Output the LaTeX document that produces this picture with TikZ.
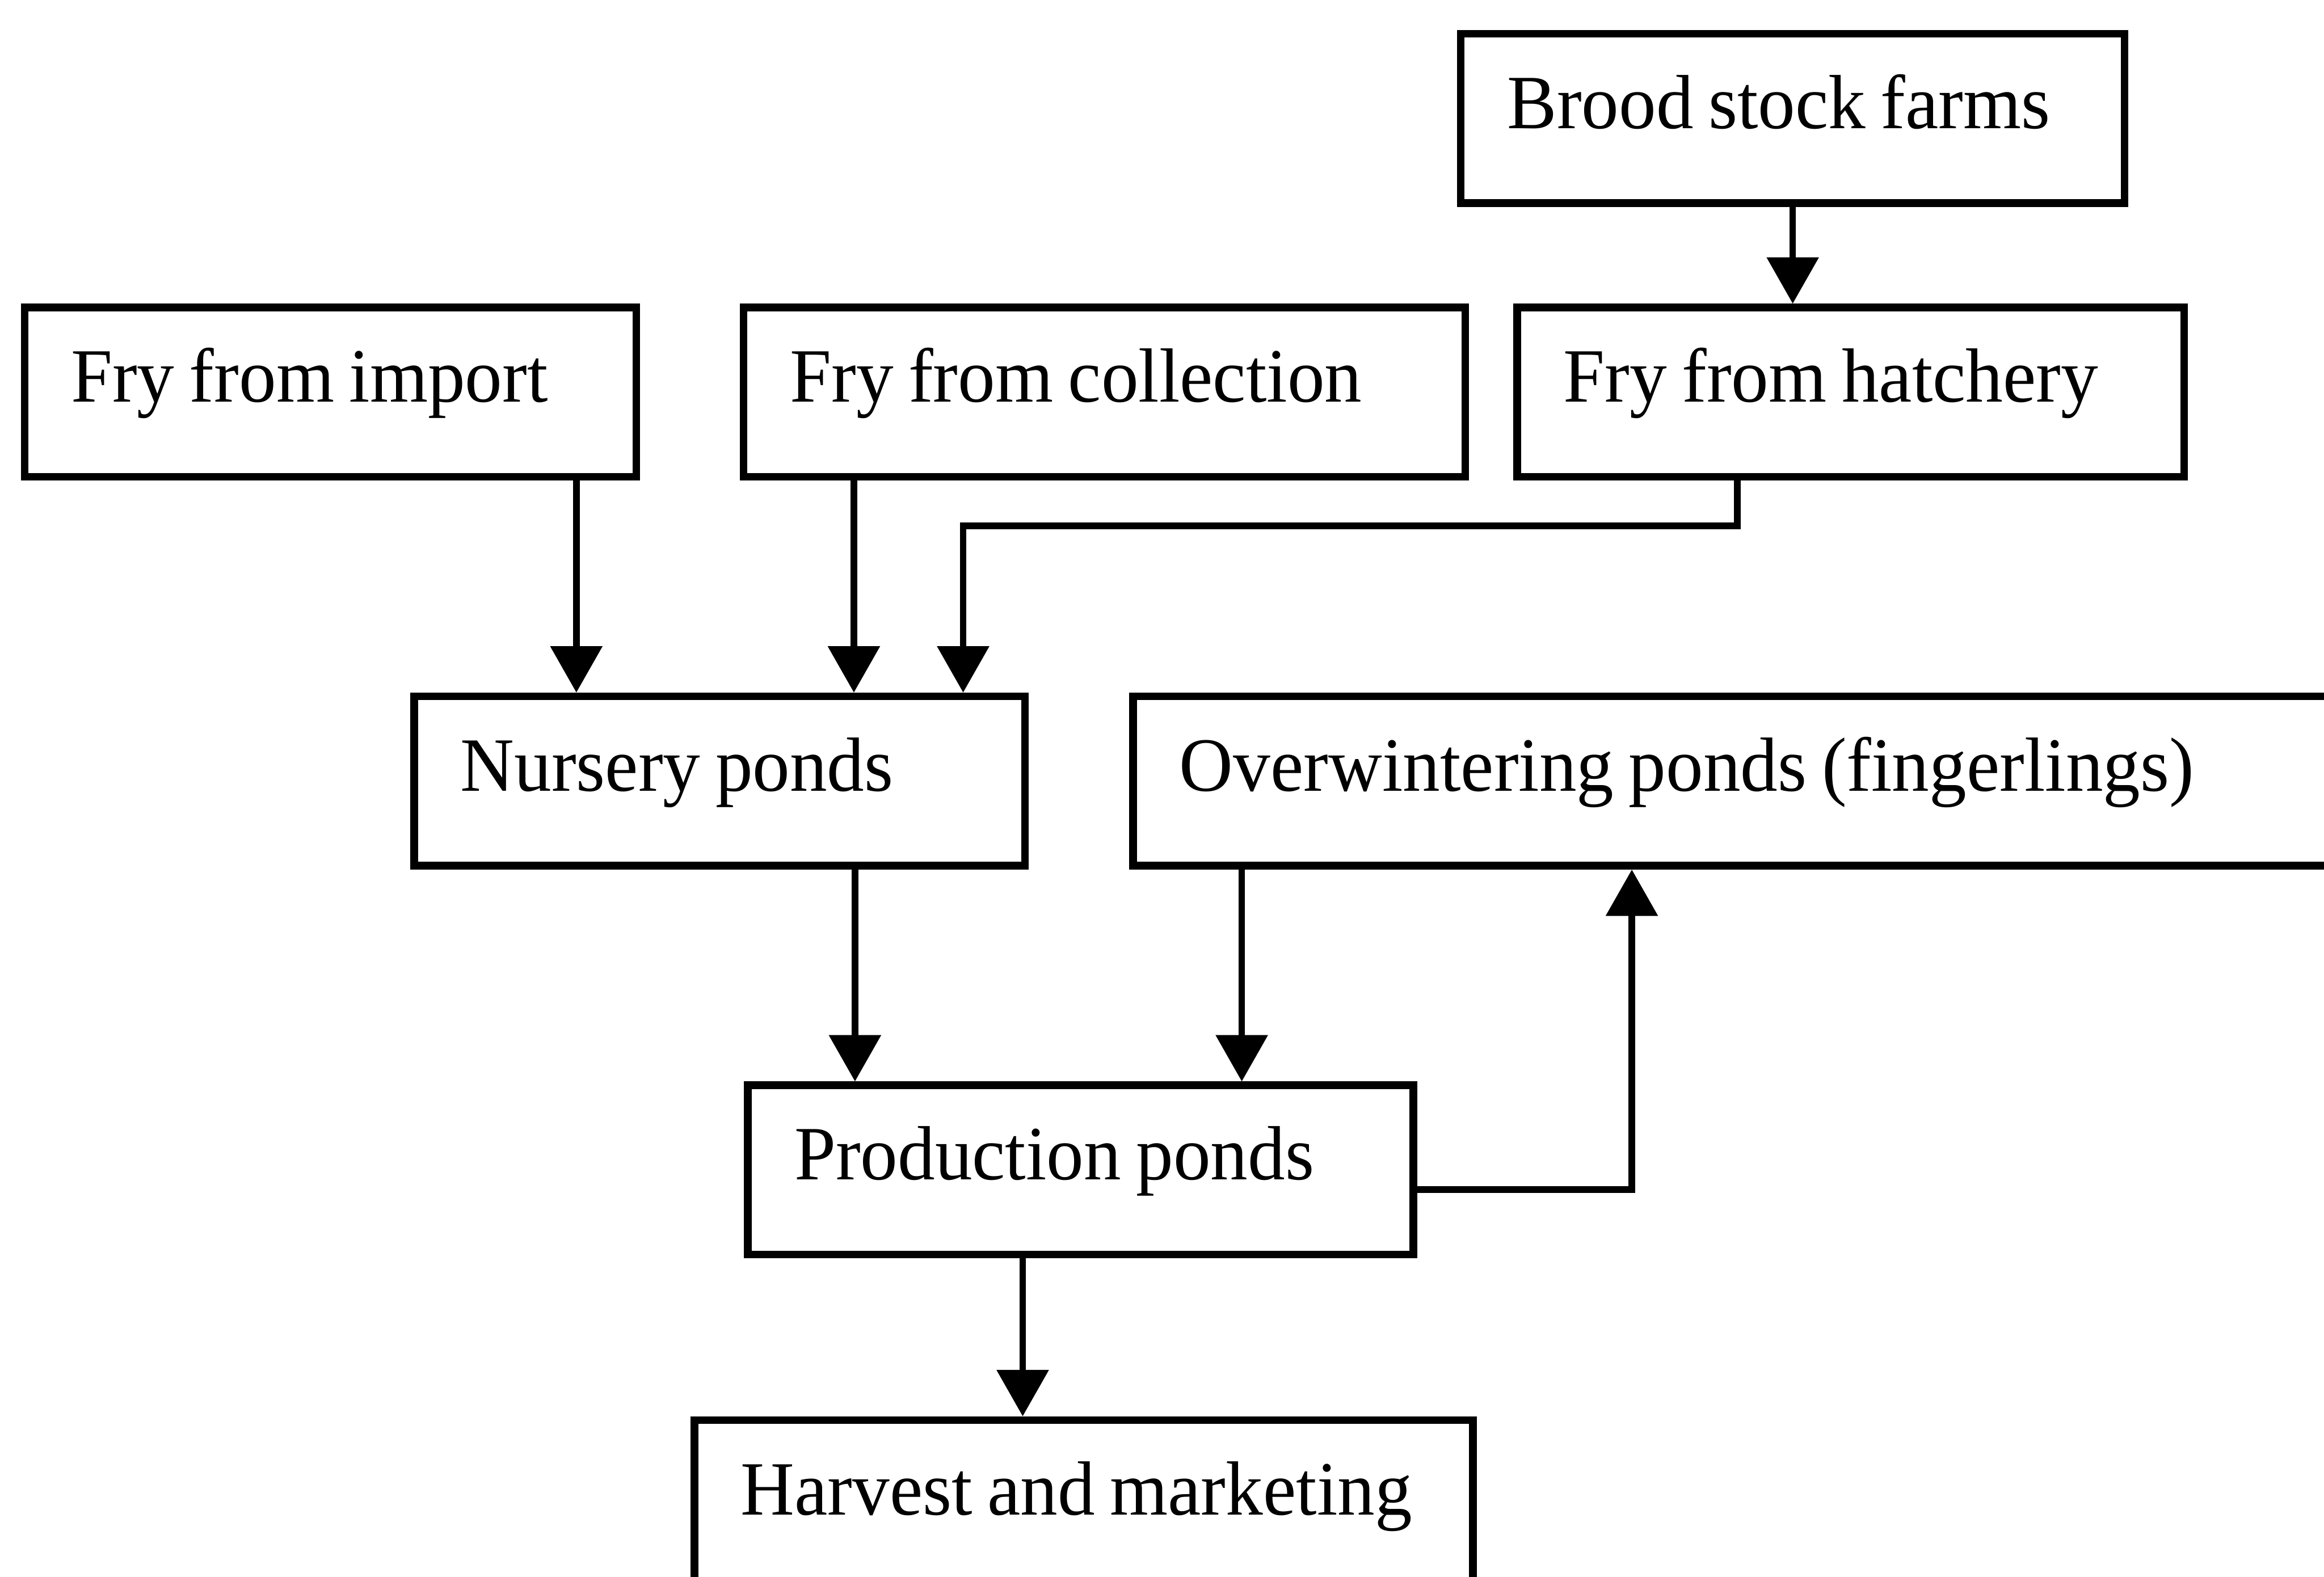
\documentclass[tikz,border=0pt]{standalone}
\usepackage{fontspec}
\setmainfont{Liberation Serif}[FakeStretch=0.97]
\usetikzlibrary{arrows.meta}

% box lettering; words are set with a tight fixed gap
\newcommand\boxfont{\fontsize{40}{48}\selectfont}
\newcommand\wgap{\kern7.8pt\relax}

\tikzset{
  box/.style={draw, line width=1.4mm, rectangle, anchor=north west,
    inner xsep=0.85cm, inner ysep=0pt, text height=1.73cm, text depth=1.37cm,
    align=left, font=\boxfont},
  flow/.style={line width=1.2mm, -{Triangle[width=0.93cm,length=0.85cm]}}
}

\begin{document}
\begin{tikzpicture}
  \useasboundingbox (0,0) rectangle (42.54,-28.87);
  \fill[white] (0,0) rectangle (42.54,-28.87);
  \clip (0,0) rectangle (42.54,-28.87);

  % boxes
  \node[box, text width=10.45cm] (brood) at (26.67,-0.55)  {Brood\wgap stock\wgap farms};
  \node[box, text width=9.50cm]  (imp)   at (0.38,-5.56)   {Fry\wgap from\wgap import};
  \node[box, text width=11.51cm] (coll)  at (13.54,-5.56)  {Fry\wgap from\wgap collection};
  \node[box, text width=10.51cm] (hat)   at (27.70,-5.56)  {Fry\wgap from\wgap hatchery};
  \node[box, text width=9.48cm]  (nurs)  at (7.51,-12.68)  {Nursery\wgap ponds};
  \node[box, text width=21.63cm] (over)  at (20.67,-12.68) {Overwintering\wgap ponds\wgap (fingerlings)};
  \node[box, text width=10.48cm] (prod)  at (13.62,-19.80) {Production\wgap ponds};
  \node[box, text width=12.55cm] (harv)  at (12.64,-25.93) {Harvest\wgap and\wgap marketing};

  % connector positions
  \coordinate (ximp)  at (10.55,0);
  \coordinate (xcol)  at (15.63,0);
  \coordinate (xnp)   at (15.65,0);
  \coordinate (xov)   at (22.73,0);
  \coordinate (xhv)   at (18.72,0);
  \coordinate (bendA) at (31.80,-9.63);
  \coordinate (bendB) at (17.63,-9.63);
  \coordinate (bendC) at (29.87,-21.78);

  % connectors
  \draw[flow] (brood.south) -- (brood.south |- hat.north);
  \draw[flow] (imp.south -| ximp) -- (nurs.north -| ximp);
  \draw[flow] (coll.south -| xcol) -- (nurs.north -| xcol);
  \draw[flow] (hat.south -| bendA) -- (bendA) -- (bendB) -- (nurs.north -| bendB);
  \draw[flow] (nurs.south -| xnp) -- (prod.north -| xnp);
  \draw[flow] (over.south -| xov) -- (prod.north -| xov);
  \draw[flow] (prod.east |- bendC) -- (bendC) -- (over.south -| bendC);
  \draw[flow] (prod.south -| xhv) -- (harv.north -| xhv);
\end{tikzpicture}
\end{document}
